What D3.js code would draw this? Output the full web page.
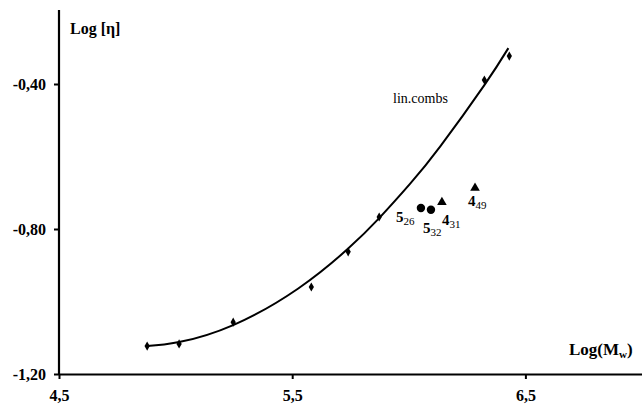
<!DOCTYPE html>
<html>
<head>
<meta charset="utf-8">
<script src="https://cdn.jsdelivr.net/npm/d3@7"></script>
<style>
  body { margin: 0; background: #fff; }
  svg text { font-family: "Liberation Serif", "Times New Roman", serif; }
</style>
</head>
<body>
<div id="chart"></div>
<script>
// measured series (diamonds)
var logM = [4.878, 5.015, 5.247, 5.582, 5.74, 5.873, 6.324, 6.431]
var logEta = [-1.123, -1.117, -1.057, -0.96, -0.863, -0.767, -0.389, -0.323]

// lin.combs curve
var curveX = [4.878, 5.015, 5.247, 5.526, 5.74, 5.873, 6.006, 6.135, 6.324, 6.427]
var curveY = [-1.123, -1.112, -1.065, -0.964, -0.854, -0.770, -0.675, -0.572, -0.403, -0.301]

// samples 5 (circles) and 4 (triangles)
var circles = [
    { x: 6.052, y: -0.742, main: "5", sub: "26" },
    { x: 6.095, y: -0.747, main: "5", sub: "32" }
]
var triangles = [
    { x: 6.142, y: -0.726, main: "4", sub: "31" },
    { x: 6.284, y: -0.687, main: "4", sub: "49" }
]

var xTicks = [4.5, 5.5, 6.5]
var yTicks = [-1.2, -0.8, -0.4]

const W = 642, H = 407
const x = d3.scaleLinear().domain([4.5, 7.0]).range([59, 642])
const y = d3.scaleLinear().domain([-1.2, -0.2]).range([374, 11.5])

var svg = d3.select("#chart").append("svg")
    .attr("width", W).attr("height", H)

const fmt = d => d.toFixed(1).replace(".", ",")
const fmtY = d => d.toFixed(2).replace(".", ",")

// x axis
var xa = svg.append("g")
    .attr("transform", `translate(0,${y(-1.2)})`)
    .call(d3.axisBottom(x).tickValues(xTicks).tickSize(5).tickSizeOuter(0).tickPadding(11).tickFormat(fmt))
xa.select(".domain").attr("stroke-width", 2.2)
xa.selectAll(".tick line").attr("stroke-width", 2)
xa.selectAll("text").style("font-size", "16px").style("font-weight", "bold")
    .style("font-family", "'Liberation Serif', serif")

// y axis
var ya = svg.append("g")
    .attr("transform", `translate(${x(4.5)},0)`)
    .call(d3.axisLeft(y).tickValues(yTicks).tickSize(5).tickSizeOuter(0).tickPadding(8).tickFormat(fmtY))
ya.select(".domain").attr("stroke-width", 2.2)
    .attr("d", `M0,${y(-0.2) - 1.5}V${y(-1.2)}`)
ya.selectAll(".tick line").attr("stroke-width", 2)
ya.selectAll("text").style("font-size", "16px").style("font-weight", "bold")
    .style("font-family", "'Liberation Serif', serif")

// axis titles
svg.append("text").attr("x", 70).attr("y", 34)
    .attr("font-size", 16).attr("font-weight", "bold").text("Log [η]")
var xt = svg.append("text").attr("x", 569).attr("y", 355)
    .attr("font-size", 17).attr("font-weight", "bold")
xt.append("tspan").text("Log(M")
xt.append("tspan").attr("font-size", 11).attr("dy", 3).text("w")
xt.append("tspan").attr("dy", -3).text(")")

// fitted curve
const line = d3.line()
    .x((d, i) => x(curveX[i]))
    .y((d, i) => y(curveY[i]))
    .curve(d3.curveNatural)

svg.append("path")
    .datum(curveX)
    .attr("fill", "none")
    .attr("stroke", "#000")
    .attr("stroke-width", 2)
    .attr("d", line)

svg.append("text").attr("x", 393).attr("y", 103)
    .attr("font-size", 14).text("lin.combs")

// diamonds
svg.append("g")
    .selectAll("path")
    .data(logM)
    .enter().append("path")
    .attr("transform", (d, i) => `translate(${x(d)},${y(logEta[i])})`)
    .attr("d", d3.symbol(d3.symbolDiamond, 24))
    .attr("fill", "#000")

// circles
svg.append("g")
    .selectAll("circle")
    .data(circles)
    .enter().append("circle")
    .attr("cx", d => x(d.x))
    .attr("cy", d => y(d.y))
    .attr("r", 4.2)
    .attr("fill", "#000")

// triangles
svg.append("g")
    .selectAll("path")
    .data(triangles)
    .enter().append("path")
    .attr("transform", d => `translate(${x(d.x)},${y(d.y)})`)
    .attr("d", d3.symbol(d3.symbolTriangle, 40))
    .attr("fill", "#000")

// point labels with subscripts
var offs = [[-25, 14], [-8, 23], [0, 23], [-7, 18]]
var all = circles.concat(triangles)
all.forEach(function (d, i) {
    var t = svg.append("text")
        .attr("x", x(d.x) + offs[i][0])
        .attr("y", y(d.y) + offs[i][1])
        .attr("font-size", 15).attr("font-weight", "bold")
    t.append("tspan").text(d.main)
    t.append("tspan").attr("font-size", 11).attr("font-weight", "normal").attr("dy", 3).text(d.sub)
})
</script>
</body>
</html>
